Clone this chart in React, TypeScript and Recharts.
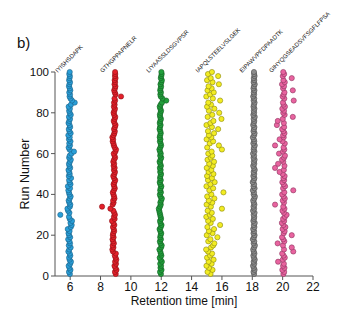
import React from "react";
import { Scatter, ScatterChart, XAxis, YAxis } from "recharts";

const runs = Array.from({ length: 100 }, (_, i) => i + 1);

const peptides = [
  "IYISHSDAPK",
  "GTHGPPAPNELR",
  "LIYAASSLDSGVPSR",
  "IAPQLSTEELVSLGEK",
  "EIPAWVPFDPAADTK",
  "GIHYQGSEADSVFSGFLFPSA",
];
const labelX = [5.97, 8.92, 11.96, 15.22, 18.11, 20.05];
const colors = ["#2a9fd8", "#e4202a", "#22a03c", "#f2ec22", "#8c8c8c", "#e8639f"];
const strokes = ["#1b5f86", "#8a1015", "#145e24", "#8a8610", "#4a4a4a", "#8d3560"];

const xTicks = [6, 8, 10, 12, 14, 16, 18, 20, 22];
const yTicks = [0, 20, 40, 60, 80, 100];

const blue = [
  5.98, 5.92, 6.02, 5.95, 5.9, 6.0, 6.05, 5.96, 5.93, 6.01,
  5.97, 5.88, 5.94, 6.03, 5.91, 5.99, 5.95, 5.87, 6.0, 5.93,
  5.89, 5.96, 5.84, 6.04, 6.1, 6.02, 6.12, 5.97, 5.92, 5.35,
  5.95, 5.86, 5.82, 5.98, 6.01, 5.94, 5.9, 5.97, 6.03, 5.95,
  5.92, 5.88, 5.99, 5.85, 6.02, 5.96, 5.93, 6.06, 5.91, 5.97,
  5.94, 5.89, 6.0, 5.95, 5.92, 5.98, 6.04, 5.93, 5.97, 6.08,
  6.25, 5.96, 5.9, 5.99, 5.94, 6.02, 5.92, 5.97, 5.88, 6.03,
  5.95, 5.91, 6.0, 5.96, 5.89, 5.94, 5.99, 5.92, 6.04, 5.97,
  5.93, 5.98, 5.9, 6.05, 6.3, 6.12, 6.02, 5.96, 5.99, 5.94,
  6.01, 5.97, 5.92, 5.95, 5.99, 5.93, 5.96, 5.98, 5.94, 5.97,
];

const red = [
  9.0, 8.95, 9.05, 8.98, 8.92, 9.02, 8.96, 9.04, 8.99, 8.94,
  9.01, 8.82, 8.78, 8.85, 8.8, 8.88, 8.83, 8.79, 8.86, 8.81,
  8.84, 8.9, 8.87, 8.82, 8.91, 8.85, 8.76, 8.93, 8.88, 8.95,
  8.9, 8.84, 8.65, 8.1, 8.8, 8.86, 8.83, 8.92, 8.89, 8.85,
  8.81, 8.88, 8.94, 8.9, 8.86, 8.92, 8.97, 8.89, 8.84, 8.91,
  8.95, 8.88, 8.93, 8.86, 8.9, 8.84, 8.89, 8.96, 8.92, 8.87,
  8.98, 9.02, 8.93, 8.88, 8.85, 8.8, 8.83, 8.78, 8.86, 8.91,
  8.94, 8.89, 8.95, 8.99, 8.92, 8.87, 8.93, 8.97, 8.9, 8.86,
  8.91, 8.95, 8.88, 8.93, 8.89, 8.96, 8.92, 9.35, 8.99, 8.94,
  8.9, 8.95, 8.98, 8.92, 8.96, 8.93, 8.99, 8.95, 8.97, 8.96,
];

const green = [
  11.98, 11.92, 12.02, 11.95, 11.99, 11.93, 12.04, 11.96, 11.9, 12.01,
  11.97, 11.94, 11.88, 11.99, 12.03, 11.95, 11.91, 11.98, 11.93, 11.96,
  12.0, 11.94, 11.89, 11.97, 12.02, 11.95, 11.92, 11.99, 11.96, 11.93,
  11.9, 11.87, 11.84, 11.92, 11.97, 11.94, 11.99, 12.04, 11.95, 11.91,
  11.98, 11.93, 11.96, 12.01, 11.94, 11.9, 11.97, 11.92, 11.95, 11.99,
  11.93, 11.96, 11.91, 11.98, 11.94, 11.89, 11.95, 12.0, 11.93, 11.97,
  11.92, 11.88, 11.94, 11.99, 11.96, 11.91, 11.95, 11.9, 11.93, 11.97,
  11.94, 11.89, 11.92, 11.96, 11.9, 11.94, 11.98, 11.93, 11.91, 11.95,
  11.99, 11.94, 11.9, 11.96, 12.05, 12.33, 12.08, 11.97, 11.94, 11.98,
  11.93, 11.96, 11.99, 11.95, 12.01, 12.04, 11.97, 12.0, 12.03, 12.01,
];

const yellow = [
  15.25, 15.05, 15.38, 15.15, 14.98, 15.32, 15.12, 15.45, 15.02, 15.22,
  15.35, 15.08, 14.96, 15.28, 15.42, 15.5, 15.1, 15.24, 15.7, 15.0,
  15.38, 15.14, 15.48, 15.04, 15.88, 15.26, 15.09, 15.4, 14.97, 15.2,
  15.33, 15.06, 16.0, 15.27, 14.99, 15.36, 15.13, 15.5, 15.03, 15.3,
  16.1, 15.17, 15.42, 14.98, 15.24, 15.52, 15.08, 15.34, 15.02, 15.44,
  15.12, 15.3, 15.0, 15.4, 15.16, 15.48, 15.05, 15.26, 15.36, 15.1,
  15.32, 16.0, 15.03, 15.8, 15.2, 15.42, 14.99, 15.3, 15.14, 15.48,
  15.08, 15.75, 15.34, 14.98, 15.24, 15.44, 15.97, 15.06, 15.36, 15.82,
  15.14, 15.5, 15.02, 15.28, 15.1, 15.88, 15.4, 14.97, 15.22, 15.46,
  15.05, 15.32, 15.12, 15.8, 15.38, 15.02, 15.26, 15.75, 15.08, 15.34,
];

const gray = [
  18.12, 18.08, 18.15, 18.1, 18.05, 18.13, 18.09, 18.16, 18.11, 18.07,
  18.14, 18.1, 18.06, 18.12, 18.17, 18.09, 18.13, 18.04, 18.11, 18.15,
  18.08, 18.12, 18.06, 18.14, 18.1, 18.16, 18.07, 18.11, 18.13, 18.09,
  18.15, 18.05, 18.12, 18.08, 18.14, 18.1, 18.06, 18.13, 18.17, 18.09,
  18.11, 18.04, 18.15, 18.08, 18.12, 18.03, 18.1, 18.14, 18.07, 18.13,
  18.09, 18.16, 18.11, 18.06, 18.13, 18.1, 18.15, 18.08, 18.12, 18.05,
  18.14, 18.09, 18.11, 18.16, 18.07, 18.13, 18.1, 18.04, 18.12, 18.15,
  18.08, 18.11, 18.14, 18.06, 18.1, 18.13, 18.09, 18.16, 18.07, 18.12,
  18.1, 18.14, 18.08, 18.11, 18.15, 18.09, 18.13, 18.06, 18.12, 18.1,
  18.14, 18.08, 18.11, 18.16, 18.09, 18.13, 18.1, 18.15, 18.12, 18.11,
];

const pink = [
  20.05, 20.1, 19.98, 20.12, 20.03, 20.08, 19.7, 20.01, 20.14, 20.06,
  19.97, 20.7, 20.09, 20.6, 20.02, 19.67, 20.11, 20.04, 19.96, 20.6,
  20.07, 20.13, 20.0, 20.18, 20.05, 19.95, 20.1, 20.03, 20.15, 20.26,
  20.08, 19.99, 20.12, 20.04, 19.5, 20.09, 20.01, 20.14, 20.06, 19.97,
  20.11, 20.7, 20.03, 20.16, 20.07, 19.98, 20.1, 20.05, 20.13, 20.0,
  19.8, 20.08, 19.5, 20.12, 19.7, 20.04, 19.96, 20.09, 20.15, 19.76,
  20.02, 20.11, 20.06, 19.5, 20.14, 19.99, 19.8, 20.07, 20.03, 20.12,
  20.05, 19.97, 20.1, 19.62, 20.08, 19.68, 20.01, 20.67, 20.13, 20.04,
  20.09, 19.98, 20.15, 20.06, 20.02, 20.73, 20.11, 20.0, 20.07, 20.12,
  20.67, 20.03, 20.09, 19.96, 20.14, 20.05, 20.6, 20.01, 20.1, 20.04,
];

const series = [blue, red, green, yellow, gray, pink];
const labelData = peptides.map((name, i) => ({ x: labelX[i], y: 100, name }));

const font = "'Liberation Sans', Arial, sans-serif";

const Dot = (fill: string, stroke: string) => (props: any) => (
  <circle cx={props.cx} cy={props.cy} r={2.6} fill={fill} stroke={stroke} strokeWidth={0.6} />
);

const PeptideLabel = (props: any) => {
  const x = props.cx - 12;
  const y = props.cy + 1;
  return (
    <text
      x={x}
      y={y}
      transform={`rotate(-45 ${x} ${y})`}
      fontSize={6}
      fontFamily={font}
      fill="#111"
    >
      {props.payload.name}
    </text>
  );
};

export default function App() {
  return (
    <div style={{ position: "absolute", left: 0, top: 0, width: 350, height: 321, background: "#fff" }}>
      <div style={{ position: "absolute", left: 17, top: 34, fontSize: 15, fontFamily: font, color: "#111" }}>
        b)
      </div>
      <ScatterChart
        width={350}
        height={321}
        margin={{ top: 72, right: 37, bottom: 0, left: 15 }}
        style={{ overflow: "visible" }}
      >
        <XAxis
          type="number"
          dataKey="x"
          domain={[5, 22]}
          ticks={xTicks}
          height={45}
          tickSize={4}
          stroke="#555"
          tick={{ fill: "#111", fontSize: 12, fontFamily: font }}
          label={{
            value: "Retention time [min]",
            position: "insideBottom",
            offset: 16,
            style: { fill: "#111", fontSize: 12, fontFamily: font },
          }}
        />
        <YAxis
          type="number"
          dataKey="y"
          domain={[0, 100]}
          ticks={yTicks}
          width={40}
          tickSize={4}
          stroke="#555"
          tick={{ fill: "#111", fontSize: 11.5, fontFamily: font }}
          label={{
            value: "Run Number",
            angle: -90,
            position: "insideLeft",
            offset: 10,
            style: { textAnchor: "middle", fill: "#111", fontSize: 12.5, fontFamily: font },
          }}
        />
        {series.map((vals, i) => (
          <Scatter
            key={peptides[i]}
            name={peptides[i]}
            data={runs.map((r, j) => ({ x: vals[j], y: r }))}
            shape={Dot(colors[i], strokes[i])}
            isAnimationActive={false}
          />
        ))}
        <Scatter data={labelData} shape={PeptideLabel} isAnimationActive={false} />
      </ScatterChart>
    </div>
  );
}
